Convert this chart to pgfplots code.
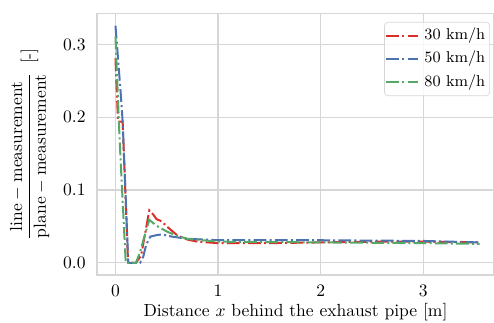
\documentclass[border=0pt]{standalone}
\usepackage{pgfplots}
\pgfplotsset{compat=1.18}
\usepackage{amsmath}
\definecolor{cred}{RGB}{222,45,38}
\definecolor{cblue}{RGB}{76,114,176}
\definecolor{cgreen}{RGB}{85,168,104}
\definecolor{gridgray}{RGB}{214,214,214}
\begin{document}
\begin{tikzpicture}
\begin{axis}[
  scale only axis,
  width=226.3pt, height=149.1pt,
  xmin=-0.18, xmax=3.69,
  ymin=-0.0169, ymax=0.3428,
  xtick={0,1,2,3},
  ytick={0,0.1,0.2,0.3},
  yticklabel style={xshift=-3pt, /pgf/number format/fixed, /pgf/number format/fixed zerofill, /pgf/number format/precision=1},
  xticklabel style={yshift=-2pt},
  major tick length=0pt,
  grid=major,
  major grid style={gridgray, line width=0.65pt},
  axis line style={gridgray, line width=0.75pt},
  tick style={draw=none},
  xlabel={Distance $x$ behind the exhaust pipe [m]},
  ylabel={$\dfrac{\text{line} - \text{measurement}}{\text{plane} - \text{measurement}}$\hspace{5pt}[-]},
  xlabel style={yshift=2.5pt},
  ylabel style={yshift=1pt},
  legend style={at={(1,1)}, anchor=north east, xshift=-2.3pt, yshift=-4.8pt,
    draw=gridgray, rounded corners=2pt, fill=white, fill opacity=0.8, text opacity=1,
    row sep=0pt, inner xsep=0.5pt, inner ysep=1pt, font=\small,
    nodes={text height=6.5pt, text depth=2pt, inner ysep=2.4pt},
    /tikz/every odd column/.append style={column sep=1.2pt}},
  legend cell align=left,
  legend image code/.code={\draw[#1] (0pt,0pt) -- (17.9pt,0pt);},
  every axis plot/.append style={line width=1.14pt, dash pattern=on 7.3pt off 1.82pt on 1.14pt off 1.82pt},
]
\addplot[cred] table {
x y
0 0.281
0.025 0.194
0.07 0.194
0.123 0.000
0.20 0.000
0.25 0.010
0.33 0.072
0.37 0.066
0.40 0.060
0.45 0.057
0.50 0.050
0.55 0.044
0.60 0.038
0.70 0.032
0.80 0.029
0.90 0.028
1.00 0.027
1.50 0.027
2.00 0.028
2.50 0.029
3.00 0.029
3.55 0.028
};
\addlegendentry{30 km/h}
\addplot[cblue] table {
x y
0 0.326
0.05 0.235
0.07 0.194
0.125 0.000
0.24 0.000
0.27 0.008
0.30 0.025
0.34 0.036
0.40 0.038
0.45 0.039
0.55 0.036
0.70 0.033
0.85 0.032
1.00 0.031
2.00 0.031
3.00 0.030
3.55 0.028
};
\addlegendentry{50 km/h}
\addplot[cgreen] table {
x y
0 0.311
0.04 0.170
0.10 0.000
0.20 0.000
0.24 0.015
0.28 0.035
0.33 0.059
0.40 0.051
0.50 0.043
0.60 0.037
0.70 0.033
0.85 0.031
1.00 0.029
2.00 0.028
3.00 0.027
3.55 0.026
};
\addlegendentry{80 km/h}
\end{axis}
\pgfresetboundingbox
\useasboundingbox ([xshift=-55.3pt,yshift=-26.8pt]current axis.south west) rectangle ([xshift=0pt,yshift=7.7pt]current axis.north east);
\end{tikzpicture}
\end{document}
